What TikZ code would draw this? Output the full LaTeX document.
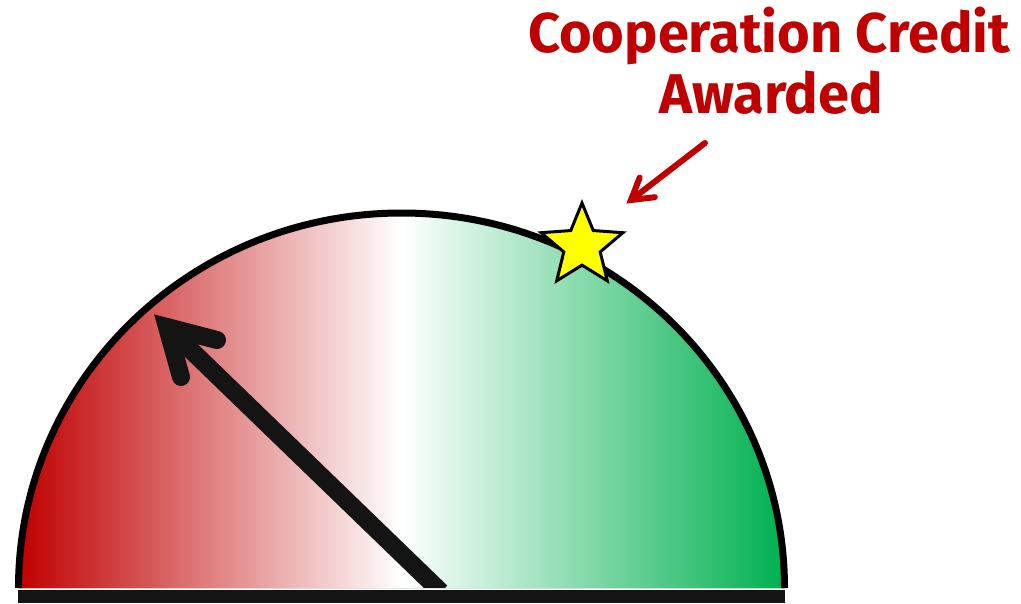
\documentclass[tikz,border=0pt]{standalone}
\usepackage{fontspec}
\setmainfont{Fira Sans}
\usetikzlibrary{calc,shapes.geometric}
\definecolor{gred}{HTML}{C00000}
\definecolor{ggreen}{HTML}{00B050}
\definecolor{needlecol}{HTML}{141414}
\definecolor{starcol}{HTML}{FFFF00}
\tikzset{
  needleline/.style={draw=needlecol, line width=18pt, line cap=round, line join=miter},
  redline/.style={draw=gred, line width=6pt, line cap=round, line join=miter},
  title/.style={text=gred, font=\fontsize{56}{60}\selectfont\bfseries, inner sep=0pt, anchor=base},
}
\begin{document}
\begin{tikzpicture}[x=1pt,y=-1pt]
\useasboundingbox (0,0) rectangle (1021,603);
% gauge fill
\fill[left color=gred, right color=ggreen, middle color=white]
  (18.5,588) arc[start angle=180, end angle=0, x radius=383pt, y radius=375pt] -- cycle;
% needle
\coordinate (nbase) at (441,592);
\coordinate (ntip) at (167,327);
\begin{scope}
  \clip (0,0) rectangle (1021,587);
  \draw[needleline, line cap=butt, shorten >=12pt] (nbase) -- (ntip);
\end{scope}
\draw[needleline] ($(ntip)+(50,13)$) -- (ntip) -- ($(ntip)+(14,50)$);
% outline
\draw[line width=7pt] (18.5,588) arc[start angle=180, end angle=0, x radius=383pt, y radius=375pt];
% base bar
\fill[needlecol] (18,590) rectangle (785,603);
% star
\node[star, star points=5, star point ratio=2.25, minimum size=86pt, inner sep=0pt,
      draw=black, fill=starcol, line width=3pt] (star) at (582,246) {};
% title
\node[title] (t1) at (769,52) {Cooperation Credit};
\node[title] (t2) at (771,113) {Awarded};
% red arrow
\coordinate (rstart) at (705,143);
\coordinate (rtip) at (631,200);
\draw[redline] (rstart) -- (rtip);
\draw[redline] ($(rtip)+(23.8,-2.8)$) -- (rtip) -- ($(rtip)+(8.7,-22.4)$);
\end{tikzpicture}
\end{document}
